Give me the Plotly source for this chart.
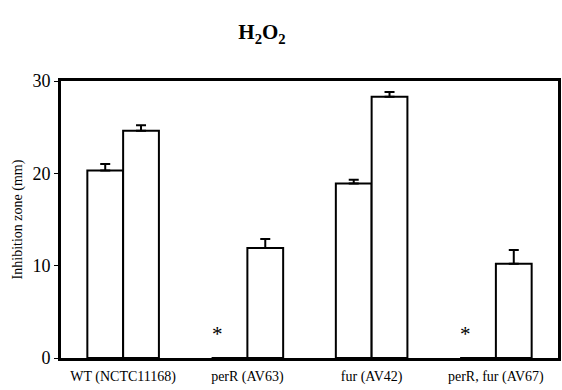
import plotly.graph_objects as go

categories = ["WT (NCTC11168)", "perR (AV63)", "fur (AV42)", "perR, fur (AV67)"]
series1 = [20.3, 0.0, 18.9, 0.0]
series1_err = [0.7, 0.0, 0.4, 0.0]
series2 = [24.6, 11.9, 28.3, 10.2]
series2_err = [0.6, 1.0, 0.5, 1.5]
asterisk_cats = ["perR (AV63)", "perR, fur (AV67)"]
asterisk_y = [2.6, 2.6]
y_ticks = [0, 10, 20, 30]

serif = "Liberation Serif, Times New Roman, serif"

fig = go.Figure()
for vals, errs in [(series1, series1_err), (series2, series2_err)]:
    fig.add_trace(go.Bar(
        x=categories, y=vals,
        marker=dict(color="white", line=dict(color="black", width=2)),
        error_y=dict(type="data", array=errs, arrayminus=[0] * len(errs), symmetric=False,
                     color="black", thickness=2, width=5),
        showlegend=False,
    ))

for c, yv in zip(asterisk_cats, asterisk_y):
    fig.add_annotation(x=c, y=yv, text="*", showarrow=False, xshift=-30,
                       font=dict(family=serif, size=21, color="black"))

fig.update_layout(
    width=562, height=390,
    margin=dict(l=61, r=1, t=81, b=32),
    paper_bgcolor="white", plot_bgcolor="white",
    barmode="group", bargap=0.424, bargroupgap=0,
    title=dict(text="<b>H<sub>2</sub>O<sub>2</sub></b>", x=262 / 562, xanchor="center",
               y=1 - 32 / 390, yanchor="middle",
               font=dict(family=serif, size=21, color="black")),
    font=dict(family=serif, color="black"),
)
fig.update_xaxes(showline=True, linecolor="black", linewidth=3, mirror=True,
                 ticks="", tickfont=dict(family=serif, size=14, color="black"),
                 ticklabelstandoff=3, showgrid=False)
fig.update_yaxes(range=[0, 30], tickvals=y_ticks, showline=True, linecolor="black",
                 linewidth=3, mirror=True, ticks="outside", ticklen=4, tickwidth=1,
                 tickcolor="black", showgrid=False, zeroline=False,
                 tickfont=dict(family=serif, size=18, color="black"),
                 title=dict(text="Inhibition zone (mm)", standoff=7,
                            font=dict(family=serif, size=14, color="black")))

fig.write_html("out.html", config={"displayModeBar": False},
               post_script="document.body.style.margin='0';")
